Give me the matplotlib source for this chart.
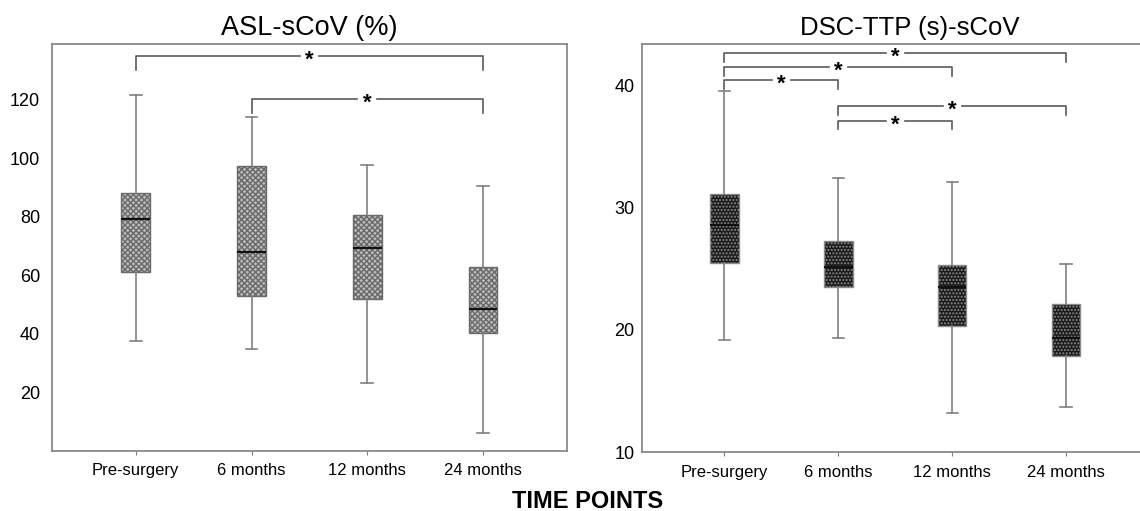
import matplotlib.pyplot as plt

plt.rcParams['font.family'] = ['Liberation Sans', 'DejaVu Sans']

TIME_POINTS = ['Pre-surgery', '6 months', '12 months', '24 months']

# ASL-sCoV (%) box stats
asl_whislo = [37.6, 34.9, 23.0, 6.1]
asl_q1 = [61.2, 53.0, 52.0, 40.2]
asl_med = [79.1, 68.0, 69.4, 48.4]
asl_q3 = [88.2, 97.4, 80.7, 62.9]
asl_whishi = [121.8, 114.1, 97.7, 90.5]
asl_pairs = [(0, 3), (1, 3)]          # significant comparisons
asl_pair_y = [135.0, 120.3]

# DSC-TTP (s)-sCoV box stats
dsc_whislo = [19.2, 19.35, 13.2, 13.7]
dsc_q1 = [25.5, 23.5, 20.3, 17.9]
dsc_med = [28.55, 25.15, 23.5, 19.35]
dsc_q3 = [31.1, 27.3, 25.3, 22.1]
dsc_whishi = [39.5, 32.4, 32.07, 25.4]
dsc_pairs = [(0, 3), (0, 2), (0, 1), (1, 3), (1, 2)]
dsc_pair_y = [42.64, 41.5, 40.4, 38.3, 37.1]

GRAY = '#808080'
BRACKET = '#5a5a5a'
GAP = 0.085  # half gap around the asterisk, in x units


def draw_boxes(ax, lo, q1, med, q3, hi, face, edge, hatch):
    stats = [dict(whislo=a, q1=b, med=c, q3=d, whishi=e, fliers=[])
             for a, b, c, d, e in zip(lo, q1, med, q3, hi)]
    ax.bxp(stats, positions=range(len(stats)), widths=0.25, capwidths=0.1,
           patch_artist=True, showfliers=False,
           boxprops=dict(facecolor=face, edgecolor=edge, linewidth=1.0, hatch=hatch),
           whiskerprops=dict(color=GRAY, linewidth=1.2),
           capprops=dict(color=GRAY, linewidth=1.2),
           medianprops=dict(color='#111111', linewidth=1.6))


def draw_brackets(ax, pairs, ys, drop):
    for (a, b), y in zip(pairs, ys):
        m = (a + b) / 2
        ax.plot([a, a, m - GAP], [y - drop, y, y], color=BRACKET, lw=1.2)
        ax.plot([m + GAP, b, b], [y, y, y - drop], color=BRACKET, lw=1.2)
        ax.annotate('*', (m, y), xytext=(0, -7), textcoords='offset points',
                    ha='center', va='baseline', fontsize=16, fontweight='bold')


def style_axes(ax, ypad):
    for s in ax.spines.values():
        s.set_color(GRAY)
        s.set_linewidth(1.2)
    ax.set_xticks(range(len(TIME_POINTS)), TIME_POINTS)
    ax.tick_params(axis='x', length=3, color=GRAY, labelsize=12, pad=6)
    ax.tick_params(axis='y', length=0, labelsize=13, pad=ypad)


fig = plt.figure(figsize=(11.4, 5.11), dpi=100)

ax1 = fig.add_axes([0.0455, 0.118, 0.4518, 0.7953])
draw_boxes(ax1, asl_whislo, asl_q1, asl_med, asl_q3, asl_whishi,
           '#bcbcbc', '#6a6a6a', 'xxxxxx')
draw_brackets(ax1, asl_pairs, asl_pair_y, 4.7)
ax1.set_xlim(-0.725, 3.725)
ax1.set_ylim(0, 139)
ax1.set_yticks([20, 40, 60, 80, 100, 120])
style_axes(ax1, 8.6)
ax1.set_title('ASL-sCoV (%)', fontsize=19.5, pad=7)

ax2 = fig.add_axes([0.5632, 0.1149, 0.4443, 0.7984])
draw_boxes(ax2, dsc_whislo, dsc_q1, dsc_med, dsc_q3, dsc_whishi,
           '#1a1a1a', '#8a8a8a', '.....')
draw_brackets(ax2, dsc_pairs, dsc_pair_y, 0.73)
ax2.set_xlim(-0.724, 3.724)
ax2.set_ylim(10, 43.33)
ax2.set_yticks([10, 20, 30, 40])
style_axes(ax2, 5.3)
ax2.set_title('DSC-TTP (s)-sCoV', fontsize=18.5, pad=7, x=0.529)

fig.text(0.515, 0.006, 'TIME POINTS', ha='center', va='baseline',
         fontsize=17, fontweight='bold')

fig.savefig('out.png', dpi=100)
